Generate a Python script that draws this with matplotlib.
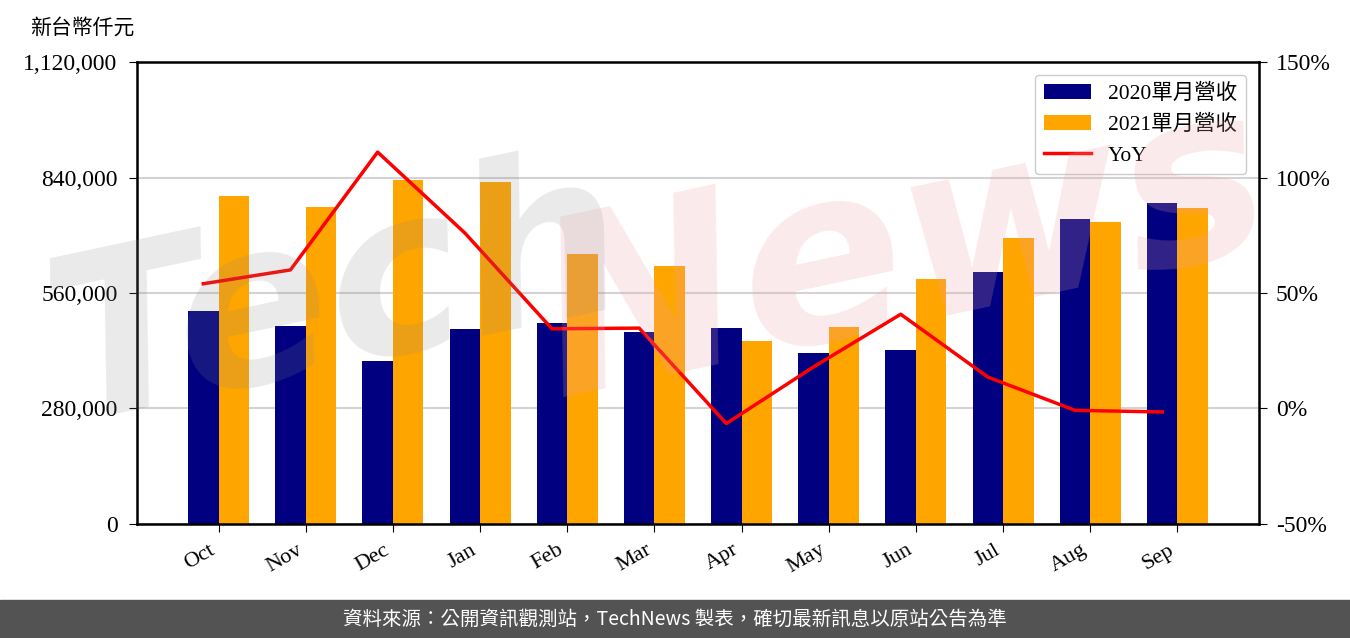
import numpy as np
import matplotlib.pyplot as plt
from matplotlib.ticker import FuncFormatter, FixedLocator

plt.rcParams['font.family'] = ['Liberation Serif', 'Noto Sans CJK TC', 'DejaVu Sans']

# data
months = ['Oct', 'Nov', 'Dec', 'Jan', 'Feb', 'Mar', 'Apr', 'May', 'Jun', 'Jul', 'Aug', 'Sep']
rev_2020 = [516000, 480000, 395000, 472700, 487000, 465000, 475000, 414500, 421800, 611000, 739400, 778000]
rev_2021 = [795000, 768500, 834000, 829000, 654500, 625500, 443600, 477500, 594000, 693300, 732000, 766000]
yoy = [54.0, 60.0, 111.0, 76.0, 34.5, 34.8, -6.5, 18.0, 40.8, 13.6, -0.8, -1.5]

fig = plt.figure(figsize=(13.5, 6.38), dpi=100)
ax = fig.add_axes([0.1015, 0.1787, 0.8311, 0.7241])

x = np.arange(len(months))
w = 0.35
b1 = ax.bar(x - w / 2, rev_2020, w, color='navy', label='2020單月營收', zorder=2)
b2 = ax.bar(x + w / 2, rev_2021, w, color='orange', label='2021單月營收', zorder=2)

ax.set_ylim(0, 1120000)
ax.yaxis.set_major_locator(FixedLocator([0, 280000, 560000, 840000, 1120000]))
ax.yaxis.set_major_formatter(FuncFormatter(lambda v, p: '{:,.0f}'.format(v)))
ax.grid(axis='y', color='#d3d3d3', linewidth=1.5, zorder=0)
ax.set_axisbelow(True)
ax.set_xticks(x)
ax.set_xticklabels(months, rotation=30, ha='right')
ax.tick_params(axis='y', labelsize=17, length=6, pad=8)
ax.tick_params(axis='x', labelsize=16, length=6, pad=6)
for s in ax.spines.values():
    s.set_linewidth(1.8)

ax2 = ax.twinx()
l1, = ax2.plot(x - w / 2, yoy, color='red', linewidth=2.5, label='YoY', zorder=3)
ax2.set_ylim(-50, 150)
ax2.set_yticks([-50, 0, 50, 100, 150])
ax2.yaxis.set_major_formatter(FuncFormatter(lambda v, p: '%d%%' % v))
ax2.tick_params(axis='y', labelsize=17, length=6, pad=6)

leg = ax2.legend([b1, b2, l1], ['2020單月營收', '2021單月營收', 'YoY'],
                 loc='upper right', fontsize=15.5, handlelength=2.2,
                 framealpha=1, edgecolor='#cccccc', borderaxespad=0.6)

fig.text(0.022, 0.955, '新台幣仟元', fontsize=15, ha='left', va='center')

# watermark
fig.text(0.25, 0.53, 'Tech', fontsize=165, color='#888888', alpha=0.18,
         rotation=12, ha='center', va='center', style='italic', weight='bold',
         family='DejaVu Sans', zorder=10)
fig.text(0.67, 0.60, 'News', fontsize=175, color='#e8a0a8', alpha=0.22,
         rotation=12, ha='center', va='center', style='italic', weight='bold',
         family='DejaVu Sans', zorder=10)

# footer bar
fig.patches.append(plt.Rectangle((0, 0), 1, 38 / 638, transform=fig.transFigure,
                                 color='#535353', zorder=0))
fig.text(0.5, 19 / 638, '資料來源：公開資訊觀測站，TechNews 製表，確切最新訊息以原站公告為準',
         color='white', fontsize=14, ha='center', va='center',
         family=['Noto Sans CJK TC', 'DejaVu Sans'])

fig.savefig('out.png', dpi=100)
